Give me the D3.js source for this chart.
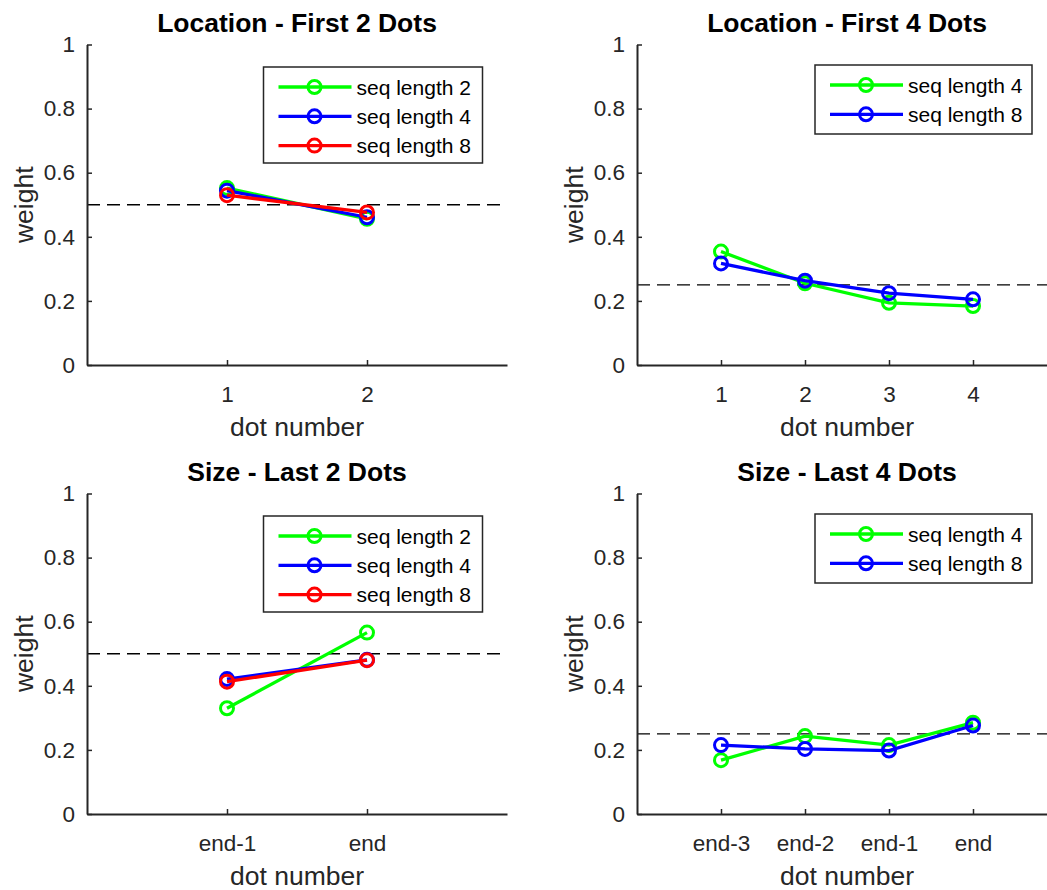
<!DOCTYPE html>
<html>
<head>
<meta charset="utf-8">
<script src="https://cdn.jsdelivr.net/npm/d3@7"></script>
<style>
  body { margin: 0; background: #fff; }
  text { font-family: "Liberation Sans", Arial, sans-serif; }
</style>
</head>
<body>
<script>
// Datos de cada panel
const seqNames2 = ["seq length 2", "seq length 4", "seq length 8"];
const seqNames4 = ["seq length 4", "seq length 8"];
const colors3 = ["#00ff00", "#0000ff", "#ff0000"];
const colors2 = ["#00ff00", "#0000ff"];

const locFirst2 = [[0.552, 0.456], [0.544, 0.461], [0.530, 0.476]];
const locFirst4 = [[0.354, 0.255, 0.194, 0.184], [0.317, 0.263, 0.224, 0.205]];
const sizeLast2 = [[0.330, 0.566], [0.421, 0.481], [0.413, 0.480]];
const sizeLast4 = [[0.168, 0.243, 0.215, 0.285], [0.215, 0.203, 0.198, 0.276]];

const ticks2Top = ["1", "2"];
const ticks4Top = ["1", "2", "3", "4"];
const ticks2Bot = ["end-1", "end"];
const ticks4Bot = ["end-3", "end-2", "end-1", "end"];
const yTicks = [0, 0.2, 0.4, 0.6, 0.8, 1];

const panels = [
  { title: "Location - First 2 Dots", left: 87, top: 44.5, xMax: 3, labels: ticks2Top, data: locFirst2, names: seqNames2, colors: colors3, chance: 0.5, legX: 263.5, legY: 67 },
  { title: "Location - First 4 Dots", left: 637, top: 44.5, xMax: 5, labels: ticks4Top, data: locFirst4, names: seqNames4, colors: colors2, chance: 0.25, legX: 815, legY: 65 },
  { title: "Size - Last 2 Dots", left: 87, top: 493.5, xMax: 3, labels: ticks2Bot, data: sizeLast2, names: seqNames2, colors: colors3, chance: 0.5, legX: 263.5, legY: 516 },
  { title: "Size - Last 4 Dots", left: 637, top: 493.5, xMax: 5, labels: ticks4Bot, data: sizeLast4, names: seqNames4, colors: colors2, chance: 0.25, legX: 815, legY: 514 }
];

const W = 420, H = 320.5;
const ink = "#262626";

const svg = d3.select("body").append("svg")
  .attr("width", 1047).attr("height", 890);

panels.forEach(p => {
  const g = svg.append("g").attr("transform", `translate(${p.left},${p.top})`);
  const x = d3.scaleLinear().domain([0, p.xMax]).range([0, W]);
  const y = d3.scaleLinear().domain([0, 1]).range([H, 0]);

  // línea de azar
  g.append("line")
    .attr("x1", 0).attr("x2", W)
    .attr("y1", y(p.chance)).attr("y2", y(p.chance))
    .attr("stroke", "#000").attr("stroke-width", 1.3)
    .attr("stroke-dasharray", "13,7");

  // ejes
  const xAxis = d3.axisBottom(x)
    .tickValues(p.labels.map((_, i) => i + 1))
    .tickFormat((d, i) => p.labels[i])
    .tickSizeInner(-5).tickSizeOuter(0).tickPadding(21);
  const gx = g.append("g").attr("transform", `translate(0,${H})`).call(xAxis);

  const yAxis = d3.axisLeft(y)
    .tickValues(yTicks)
    .tickFormat(d3.format("~g"))
    .tickSizeInner(-5).tickSizeOuter(0).tickPadding(12);
  const gy = g.append("g").call(yAxis);

  [gx, gy].forEach(a => {
    a.attr("font-size", 22.5).attr("font-family", "'Liberation Sans', Arial, sans-serif");
    a.select(".domain").attr("stroke", ink).attr("stroke-width", 2);
    a.selectAll(".tick line").attr("stroke", ink).attr("stroke-width", 1.5);
    a.selectAll(".tick text").attr("fill", ink);
  });

  // títulos y etiquetas
  g.append("text")
    .attr("x", W / 2).attr("y", -13)
    .attr("text-anchor", "middle")
    .attr("font-size", 26.5).attr("font-weight", "bold").attr("fill", "#000")
    .text(p.title);

  g.append("text")
    .attr("x", W / 2).attr("y", H + 71)
    .attr("text-anchor", "middle")
    .attr("font-size", 26.5).attr("fill", ink)
    .text("dot number");

  g.append("text")
    .attr("transform", `translate(-54,${H / 2}) rotate(-90)`)
    .attr("text-anchor", "middle")
    .attr("font-size", 26.5).attr("fill", ink)
    .text("weight");

  // series
  const line = d3.line().x((d, i) => x(i + 1)).y(d => y(d));
  p.data.forEach((serie, k) => {
    g.append("path")
      .datum(serie)
      .attr("d", line)
      .attr("fill", "none")
      .attr("stroke", p.colors[k])
      .attr("stroke-width", 3.3);
    g.selectAll(null)
      .data(serie)
      .enter().append("circle")
      .attr("cx", (d, i) => x(i + 1))
      .attr("cy", d => y(d))
      .attr("r", 6.5)
      .attr("fill", "none")
      .attr("stroke", p.colors[k])
      .attr("stroke-width", 3);
  });

  // leyenda
  const lw = p.names.length === 3 ? 219 : 217;
  const lh = p.names.length === 3 ? 96 : 69;
  const leg = svg.append("g").attr("transform", `translate(${p.legX},${p.legY})`);
  leg.append("rect")
    .attr("width", lw).attr("height", lh)
    .attr("fill", "#fff").attr("stroke", ink).attr("stroke-width", 1.5);
  p.names.forEach((n, k) => {
    const cy = 20 + k * 29.3;
    leg.append("line")
      .attr("x1", 15).attr("x2", 88).attr("y1", cy).attr("y2", cy)
      .attr("stroke", p.colors[k]).attr("stroke-width", 3.3);
    leg.append("circle")
      .attr("cx", 51).attr("cy", cy).attr("r", 6.5)
      .attr("fill", "none").attr("stroke", p.colors[k]).attr("stroke-width", 3);
    leg.append("text")
      .attr("x", 93).attr("y", cy + 7.5)
      .attr("font-size", 21).attr("fill", "#000")
      .text(n);
  });
});
</script>
</body>
</html>
